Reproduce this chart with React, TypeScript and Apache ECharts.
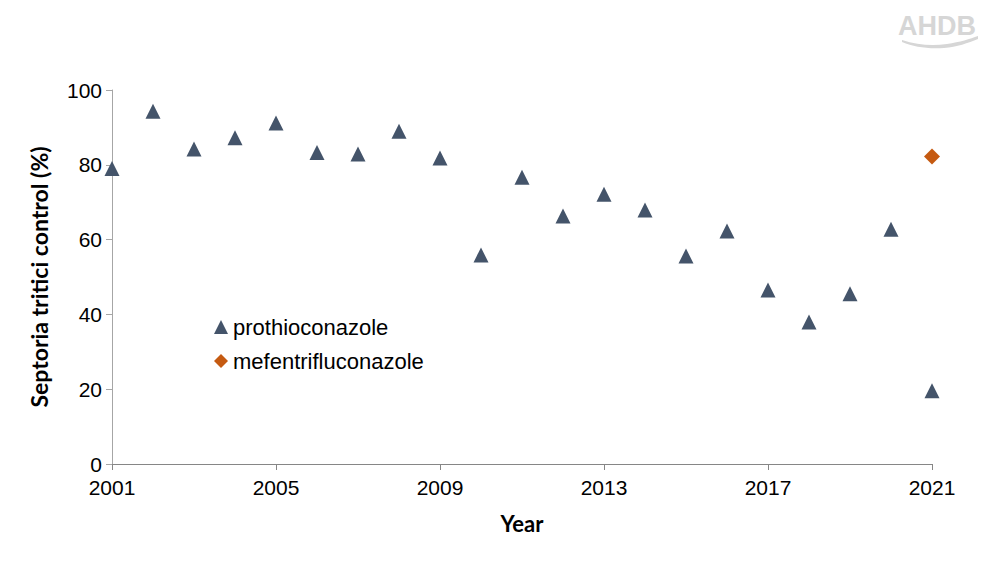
import React, { useEffect, useRef } from "react";
import * as echarts from "echarts";

const years = ["2001","2002","2003","2004","2005","2006","2007","2008","2009","2010","2011","2012","2013","2014","2015","2016","2017","2018","2019","2020","2021"];
const prothioconazole = [79, 94.3, 84.2, 87.2, 91.2, 83.3, 82.9, 89, 81.8, 55.9, 76.7, 66.3, 72.1, 67.9, 55.6, 62.3, 46.5, 38, 45.5, 62.8, 19.6];
const mefentrifluconazole: (number | null)[] = [null,null,null,null,null,null,null,null,null,null,null,null,null,null,null,null,null,null,null,null,82.2];
const yTicks = [0, 20, 40, 60, 80, 100];

const swoosh = "M0 0 C 15 5, 30 6, 45 4 C 58 2, 68 -1, 76 -4 L 76 -1 C 66 3, 55 7, 42 8 C 25 9, 12 7, 0 2 Z";

export default function App() {
  const ref = useRef<HTMLDivElement>(null);
  useEffect(() => {
    if (!ref.current) return;
    echarts.graphic.registerShape("logo", echarts.graphic.extendPath(swoosh, {}) as any);
    const chart = echarts.init(ref.current, null, { renderer: "svg" });
    const font = "'Liberation Sans', Arial, sans-serif";
    chart.setOption({
      animation: false,
      grid: { left: 112, right: 68, top: 90, bottom: 106 },
      legend: {
        orient: "vertical",
        left: 209,
        top: 311,
        itemGap: 12,
        itemWidth: 14,
        itemHeight: 14,
        textStyle: { fontFamily: font, fontSize: 22, color: "#000" },
        data: [
          { name: "prothioconazole", icon: "triangle" },
          { name: "mefentrifluconazole", icon: "diamond" },
        ],
      },
      xAxis: {
        type: "category",
        data: years,
        boundaryGap: false,
        name: "Year",
        nameLocation: "middle",
        nameGap: 48,
        nameTextStyle: { fontFamily: "Lato, sans-serif", fontWeight: "bold", fontSize: 22, color: "#000" },
        axisLine: { lineStyle: { color: "#868686", width: 1 } },
        axisTick: { interval: 3, length: 6, lineStyle: { color: "#868686" } },
        axisLabel: { interval: 3, fontFamily: font, fontSize: 21, color: "#000", margin: 13 },
        splitLine: { show: false },
      },
      yAxis: {
        type: "value",
        min: 0,
        max: 100,
        interval: 20,
        name: "Septoria tritici control (%)",
        nameLocation: "middle",
        nameGap: 62,
        nameTextStyle: { fontFamily: "Lato, sans-serif", fontWeight: "bold", fontSize: 23, color: "#000" },
        axisLine: { show: true, lineStyle: { color: "#a6a6a6", width: 1 } },
        axisTick: { show: true, length: 6, lineStyle: { color: "#a6a6a6" } },
        axisLabel: {
          fontFamily: font, fontSize: 21, color: "#000", margin: 10,
          formatter: (v: number) => (yTicks.includes(v) ? String(v) : ""),
        },
        splitLine: { show: false },
      },
      series: [
        {
          name: "prothioconazole",
          type: "scatter",
          symbol: "triangle",
          symbolSize: 15,
          itemStyle: { color: "#44546A", opacity: 1 },
          data: prothioconazole,
        },
        {
          name: "mefentrifluconazole",
          type: "scatter",
          symbol: "diamond",
          symbolSize: 16,
          itemStyle: { color: "#C55A11", opacity: 1 },
          data: mefentrifluconazole,
        },
      ],
      graphic: [
        {
          type: "text",
          right: 24,
          top: 12,
          style: { text: "AHDB", fontFamily: font, fontWeight: "bold", fontSize: 27, fill: "#d6d6d6" },
        },
        {
          type: "logo",
          x: 902,
          y: 40,
          style: { fill: "#d6d6d6" },
        },
      ],
    });
    return () => chart.dispose();
  }, []);
  return <div ref={ref} style={{ width: 1000, height: 570, margin: -8 }} />;
}
